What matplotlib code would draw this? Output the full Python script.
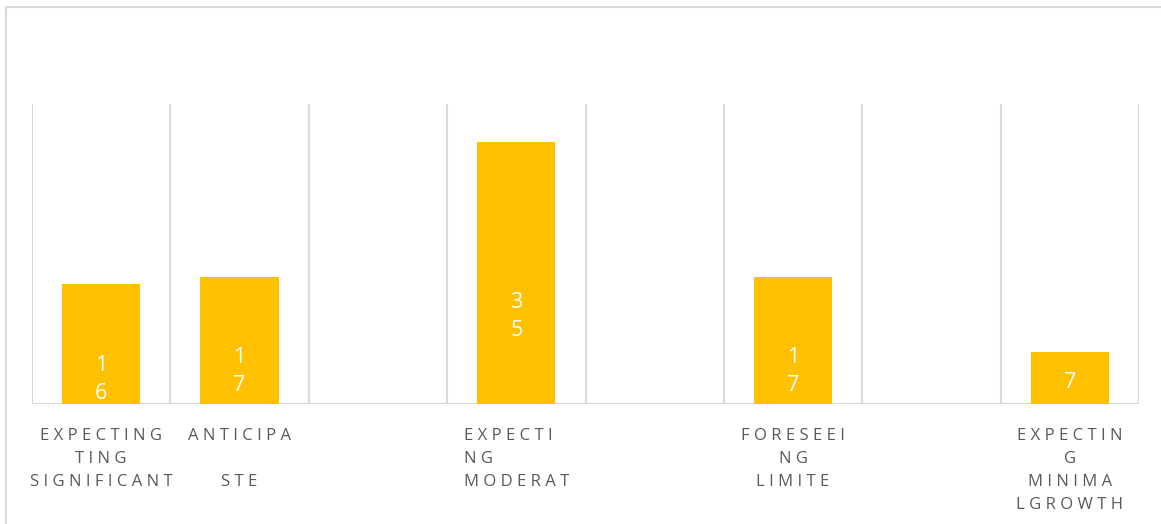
import numpy as np
import matplotlib
matplotlib.use("Agg")
import matplotlib.pyplot as plt
from matplotlib.patches import Rectangle

# Data (empty slots kept as in the original chart)
categories = ["EXPECTING\nTING\nSIGNIFICANT", "ANTICIPA\n\nSTE", "", "EXPECTI\nNG\nMODERAT",
              "", "FORESEEI\nNG\nLIMITE", "", "EXPECTIN\nG\nMINIMA\nLGROWTH"]
values = [16, 17, np.nan, 35, np.nan, 17, np.nan, 7]
label_y = [3.3, 4.3, None, 11.7, None, 4.3, None, 2.9]  # where the value labels sit

bar_color = "#FFC000"
grid_color = "#D9D9D9"
text_color = "#595959"

plt.rcParams['font.family'] = ['Open Sans', 'DejaVu Sans']


def spaced(s):
    # letter-spaced caps like the original
    return "\n".join(" ".join(line) for line in s.split("\n"))


fig = plt.figure(figsize=(11.61, 5.24), dpi=100)
ax = fig.add_axes([32 / 1161, 120 / 524, 1107 / 1161, 300 / 524])

x = np.arange(len(categories))
ax.bar(x, values, width=0.565, color=bar_color, zorder=2)

# value labels, one digit per line
for xi, v, ly in zip(x, values, label_y):
    if np.isnan(v):
        continue
    txt = "\n".join(str(int(v)))
    ax.text(xi, ly, txt, ha="center", va="center", color="white",
            fontsize=15.5, linespacing=1.45, zorder=3)

ax.set_xlim(-0.5, len(categories) - 0.5)
ax.set_ylim(0, 40)

# vertical category gridlines
for b in np.arange(-0.5, len(categories), 1.0):
    ax.axvline(b, color=grid_color, lw=1.5, zorder=1)
ax.axhline(0, color=grid_color, lw=1.5, zorder=1)

for s in ax.spines.values():
    s.set_visible(False)
ax.set_yticks([])
ax.set_xticks(x)
ticklabels = ax.set_xticklabels([spaced(c) for c in categories],
                                fontsize=12, color=text_color, linespacing=1.6)
ticklabels[3].set_multialignment("left")
ax.tick_params(axis="x", length=0, pad=17)

# outer chart border
fig.patches.append(Rectangle((6 / 1161, -0.1), 1.2, 1.1 - 7 / 524,
                             transform=fig.transFigure, fill=False,
                             edgecolor=grid_color, lw=1.5))

fig.savefig("out.png", dpi=100)
